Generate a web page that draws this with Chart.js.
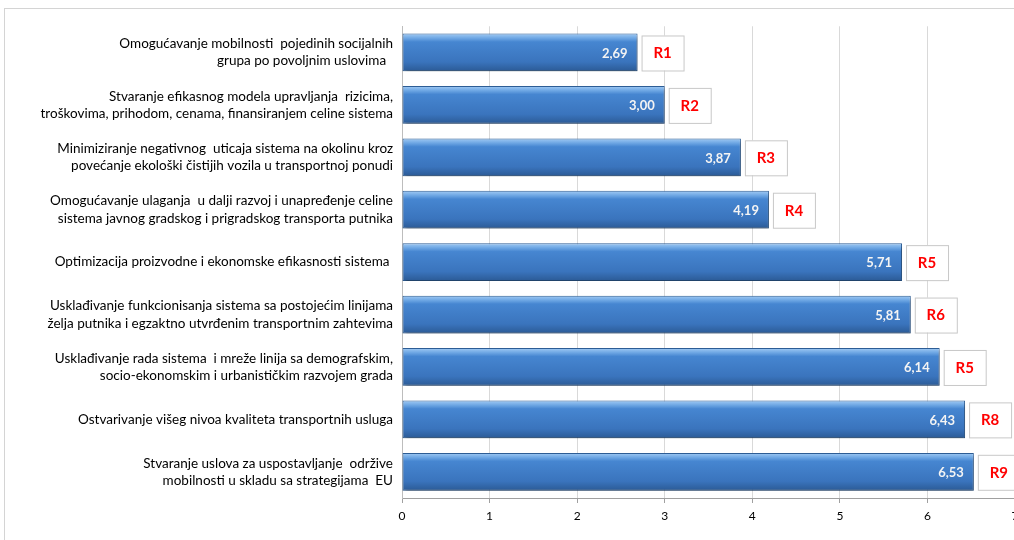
<!DOCTYPE html>
<html>
<head>
<meta charset="utf-8">
<script src="https://cdn.jsdelivr.net/npm/chart.js@4"></script>
<style>
  html, body { margin: 0; padding: 0; background: #fff; overflow: hidden; }
  #frame { position: absolute; left: 4px; top: 8px; width: 1100px; height: 600px; border: 1px solid #d4d4d4; }
  #wrap { position: absolute; left: 0; top: 0; width: 1040px; height: 540px; }
</style>
</head>
<body>
<div id="frame"></div>
<div id="wrap"><canvas id="rankChart" width="1040" height="540"></canvas></div>
<script>
const categories = [
  ['Omogućavanje mobilnosti  pojedinih socijalnih', 'grupa po povoljnim uslovima  '],
  ['Stvaranje efikasnog modela upravljanja  rizicima,', 'troškovima, prihodom, cenama, finansiranjem celine sistema'],
  ['Minimiziranje negativnog  uticaja sistema na okolinu kroz', 'povećanje ekološki čistijih vozila u transportnoj ponudi'],
  ['Omogućavanje ulaganja  u dalji razvoj i unapređenje celine', 'sistema javnog gradskog i prigradskog transporta putnika'],
  'Optimizacija proizvodne i ekonomske efikasnosti sistema ',
  ['Usklađivanje funkcionisanja sistema sa postojećim linijama', 'želja putnika i egzaktno utvrđenim transportnim zahtevima'],
  ['Usklađivanje rada sistema  i mreže linija sa demografskim,', 'socio-ekonomskim i urbanističkim razvojem grada'],
  'Ostvarivanje višeg nivoa kvaliteta transportnih usluga',
  ['Stvaranje uslova za uspostavljanje  održive', 'mobilnosti u skladu sa strategijama  EU']
];
const scores = [2.69, 3.00, 3.87, 4.19, 5.71, 5.81, 6.14, 6.43, 6.53];
const ranks = ['R1', 'R2', 'R3', 'R4', 'R5', 'R6', 'R5', 'R8', 'R9'];

const BAR_PCT = 0.72;

// shaded blue bars like the Excel 3D style
function barFill(c) {
  const chart = c.chart;
  if (!chart.chartArea || !chart.scales.y) return '#3a78c4';
  const y = chart.scales.y.getPixelForValue(c.dataIndex);
  const h = (chart.chartArea.height / categories.length) * BAR_PCT;
  if (!isFinite(y) || !isFinite(h)) return '#3a78c4';
  const g = chart.ctx.createLinearGradient(0, y - h / 2, 0, y + h / 2);
  g.addColorStop(0, '#a2cbf4');
  g.addColorStop(0.12, '#6ea7e4');
  g.addColorStop(0.22, '#4686d1');
  g.addColorStop(0.75, '#3a74bd');
  g.addColorStop(1, '#2b5a95');
  return g;
}

const shadowPlugin = {
  id: 'shadow',
  beforeDatasetsDraw(chart) {
    const ctx = chart.ctx;
    ctx.save();
    ctx.shadowColor = 'rgba(0,0,0,0.35)';
    ctx.shadowBlur = 3;
    ctx.shadowOffsetX = 1;
    ctx.shadowOffsetY = 3;
  },
  afterDatasetsDraw(chart) {
    chart.ctx.restore();
  }
};

const labelPlugin = {
  id: 'barLabels',
  afterDraw(chart) {
    const ctx = chart.ctx;
    const meta = chart.getDatasetMeta(0);
    ctx.save();
    meta.data.forEach((bar, i) => {
      ctx.font = 'bold 13px Lato';
      ctx.fillStyle = '#f4f4f4';
      ctx.textAlign = 'right';
      ctx.textBaseline = 'middle';
      ctx.fillText(scores[i].toFixed(2).replace('.', ','), bar.x - 10, bar.y + 1);

      const bx = bar.x + 4, by = bar.y - 17, bw = 42, bh = 35;
      ctx.fillStyle = '#ffffff';
      ctx.fillRect(bx, by, bw, bh);
      ctx.strokeStyle = '#c8c8c8';
      ctx.lineWidth = 1;
      ctx.strokeRect(bx + 0.5, by + 0.5, bw, bh);
      ctx.fillStyle = '#ff0000';
      ctx.font = 'bold 15px Lato';
      ctx.textAlign = 'center';
      ctx.fillText(ranks[i], bx + bw / 2, bar.y + 1);
    });
    ctx.restore();
  }
};

const ctx = document.getElementById('rankChart').getContext('2d');
const rankChart = new Chart(ctx, {
  type: 'bar',
  data: {
    labels: categories,
    datasets: [{
      data: scores,
      backgroundColor: barFill,
      borderColor: '#2d5d95',
      borderWidth: 1,
      borderSkipped: false,
      categoryPercentage: 1,
      barPercentage: BAR_PCT
    }]
  },
  options: {
    indexAxis: 'y',
    responsive: false,
    animation: false,
    devicePixelRatio: 1,
    layout: { padding: { top: 25, right: 25, left: 0, bottom: 0 } },
    plugins: {
      legend: { display: false },
      tooltip: { enabled: false }
    },
    scales: {
      x: {
        min: 0,
        max: 7,
        ticks: { stepSize: 1, color: '#000', font: { family: 'Lato', size: 12 }, padding: 6 },
        afterFit: s => { s.height = 42; },
        grid: { color: '#d9d9d9', tickLength: 5, tickColor: '#a0a0a0' },
        border: { color: '#a0a0a0' }
      },
      y: {
        afterFit: s => { s.width = 402; },
        grid: { display: false, tickLength: 0 },
        border: { color: '#bdbdbd' },
        ticks: { color: '#000', font: { family: 'Lato', size: 13.5, lineHeight: 1.28 }, padding: 9 }
      }
    }
  },
  plugins: [shadowPlugin, labelPlugin]
});
</script>
</body>
</html>
